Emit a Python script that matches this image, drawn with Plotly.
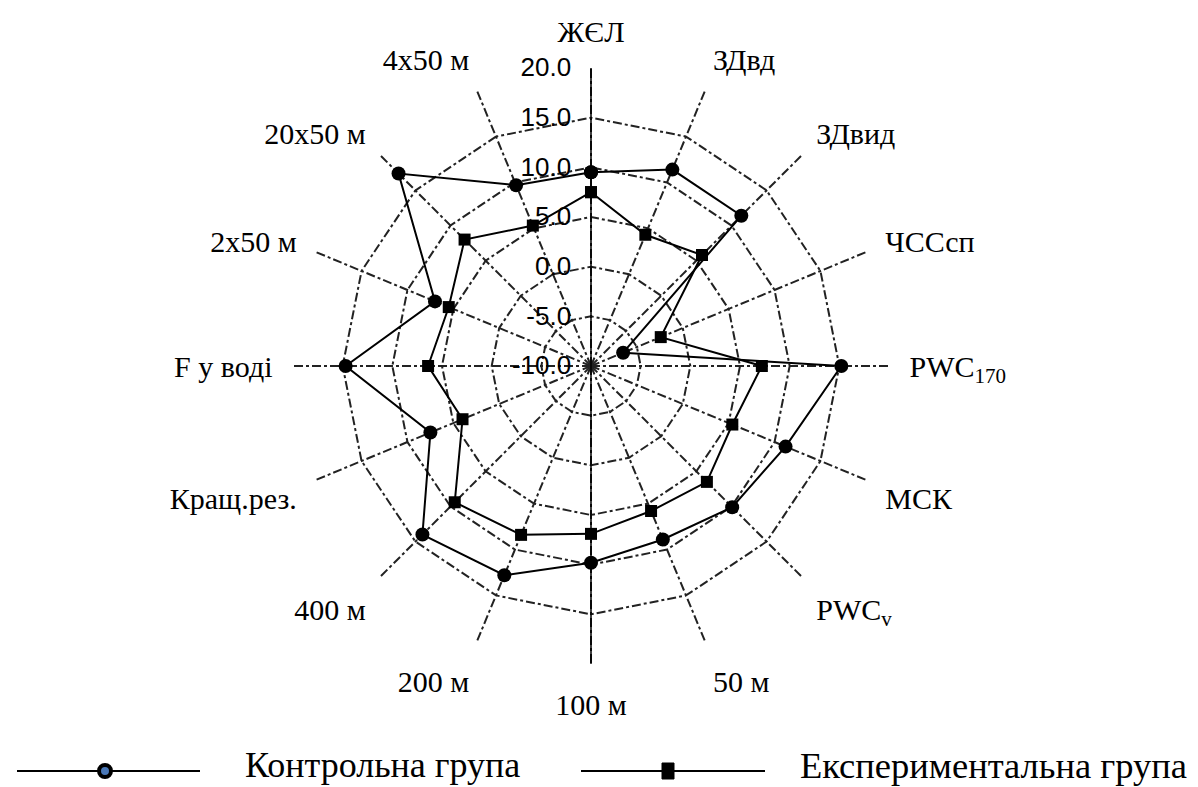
import plotly.graph_objects as go

categories = ["ЖЄЛ", "ЗДвд", "ЗДвид", "ЧССсп", "PWC<sub>170</sub>", "МСК", "PWC<sub>v</sub>",
              "50 м", "100 м", "200 м", "400 м", "Кращ.рез.", "F у воді", "2х50 м",
              "20х50 м", "4х50 м"]
control = [9.5, 11.4, 11.4, -6.5, 15.2, 11.2, 10.1, 8.9, 9.8, 12.8, 14.0, 7.5, 14.7, 7.0, 17.4, 9.7]
experimental = [7.5, 4.3, 5.8, -2.4, 7.2, 5.4, 6.5, 5.8, 6.9, 8.4, 9.4, 4.0, 6.4, 5.5, 8.0, 5.3]
legend_names = ["Контрольна група", "Експериментальна група"]
radial_range = [-10, 20]
radial_ticks = [-10, -5, 0, 5, 10, 15, 20]

# plotly's polygon grid hides markers when the radial range starts below zero,
# so the radial axis is offset to start at 0 and labelled with the original values
base = radial_range[0]
def off(vals):
    return [v - base for v in vals]

W, H = 1198, 787
cx, cy, R = 583, 358, 298

fig = go.Figure()
# solid vertical axis line continuing below the centre (as in the reference)
fig.add_trace(go.Scatterpolar(
    r=off(radial_range), theta=[categories[8], categories[8]], mode="lines",
    line=dict(color="black", width=1.5), hoverinfo="skip", showlegend=False))
for vals, name, sym, size in [(control, legend_names[0], "circle", 14),
                              (experimental, legend_names[1], "square", 12)]:
    fig.add_trace(go.Scatterpolar(
        r=off(vals + vals[:1]), theta=categories + categories[:1],
        customdata=vals + vals[:1],
        hovertemplate="%{theta}: %{customdata:.1f}<extra>" + name + "</extra>",
        mode="lines+markers", name=name,
        line=dict(color="black", width=2),
        marker=dict(symbol=sym, size=size, color="black"),
        showlegend=False))

fig.update_layout(
    width=W, height=H,
    margin=dict(l=0, r=0, t=0, b=0),
    paper_bgcolor="white", plot_bgcolor="white",
    polar=dict(
        domain=dict(x=[(cx - R) / W, (cx + R) / W], y=[(H - cy - R) / H, (H - cy + R) / H]),
        bgcolor="white",
        gridshape="linear",
        angularaxis=dict(
            rotation=90, direction="clockwise",
            categoryorder="array", categoryarray=categories,
            tickfont=dict(family="Liberation Serif", size=30, color="black"),
            showline=False,
            gridcolor="#222222", griddash="dashdot", gridwidth=1.6,
            ticks="outside", ticklen=14, tickcolor="rgba(0,0,0,0)",
        ),
        radialaxis=dict(
            range=off(radial_range), tickvals=off(radial_ticks),
            ticktext=[f"{t:.1f}" for t in radial_ticks],
            angle=90, tickangle=90, side="counterclockwise",
            tickfont=dict(family="Liberation Sans", size=26, color="black"),
            showline=True, linecolor="black", linewidth=1.5,
            gridcolor="#222222", griddash="dashdot", gridwidth=1.6,
            ticks="outside", ticklen=10, tickcolor="rgba(0,0,0,0)",
        ),
    ),
)

# custom legend (long line symbols as in the reference)
ly = 1 - 763 / H
ty = 1 - 757 / H
shapes = [
    dict(type="line", xref="paper", yref="paper", x0=9 / W, x1=192 / W, y0=ly, y1=ly,
         line=dict(color="black", width=2)),
    dict(type="circle", xref="paper", yref="paper", xsizemode="pixel", ysizemode="pixel",
         xanchor=97 / W, yanchor=ly, x0=-6, x1=6, y0=-6, y1=6,
         fillcolor="#4a78b8", line=dict(color="black", width=4)),
    dict(type="line", xref="paper", yref="paper", x0=573 / W, x1=757 / W, y0=ly, y1=ly,
         line=dict(color="black", width=2)),
    dict(type="rect", xref="paper", yref="paper", xsizemode="pixel", ysizemode="pixel",
         xanchor=660 / W, yanchor=ly, x0=-6, x1=6, y0=-8, y1=8,
         fillcolor="black", line=dict(color="black", width=1)),
]
annotations = [
    dict(text=legend_names[0], xref="paper", yref="paper", x=235 / W, y=ty,
         xanchor="left", yanchor="middle", showarrow=False,
         font=dict(family="Liberation Serif", size=36, color="black")),
    dict(text=legend_names[1], xref="paper", yref="paper", x=790 / W, y=ty,
         xanchor="left", yanchor="middle", showarrow=False,
         font=dict(family="Liberation Serif", size=36.5, color="black")),
]
fig.update_layout(shapes=shapes, annotations=annotations)

fig.write_html("out.html")
